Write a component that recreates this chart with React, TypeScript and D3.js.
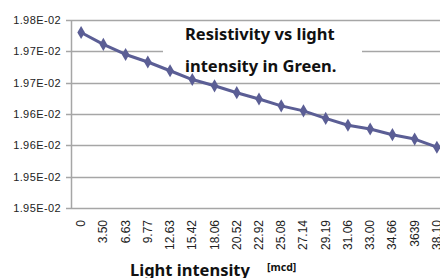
import React from "react";
import * as d3 from "d3";

const categories = ["0", "3.50", "6.63", "9.77", "12.63", "15.42", "18.06", "20.52", "22.92", "25.08", "27.14", "29.19", "31.06", "33.00", "34.66", "3639", "38.10"];
const resistivity = [0.019780, 0.019761, 0.019745, 0.019733, 0.019719, 0.019705, 0.019695, 0.019684, 0.019674, 0.019663, 0.019655, 0.019643, 0.019632, 0.019626, 0.019617, 0.019610, 0.019597];
const yTickValues = [0.0195, 0.01955, 0.0196, 0.01965, 0.0197, 0.01975, 0.0198];
const yTickLabels = ["1.95E-02", "1.95E-02", "1.96E-02", "1.96E-02", "1.97E-02", "1.97E-02", "1.98E-02"];
const titleLines = ["Resistivity vs light", "intensity in Green."];
const xTitle = "Light intensity";
const xUnit = "[mcd]";

export default function App() {
  const W = 440, H = 278;
  const left = 71, top = 20, bottom = 208;
  const x = d3.scaleBand<string>().domain(categories).range([70, 448]);
  const y = d3.scaleLinear().domain([0.0195, 0.0198]).range([bottom, top]);
  const cx = (c: string) => (x(c) as number) + x.bandwidth() / 2;
  const line = d3.line<number>().x((_, i) => cx(categories[i])).y((d) => y(d));
  const diamond = d3.symbol().type(d3.symbolDiamond).size(50)();
  const color = "#5B5E95";
  const grid = "#A6A6A6";
  return (
    <svg width={W} height={H} style={{ position: "absolute", left: 0, top: 0, background: "#fff" }}>
      {yTickValues.map((v, i) => (
        <g key={i}>
          <line x1={66} x2={W} y1={Math.round(y(v)) + 0.5} y2={Math.round(y(v)) + 0.5} stroke={grid} strokeWidth={1.3} />
          <text x={61} y={y(v) + 4} textAnchor="end" fontFamily="Liberation Sans, Arial" fontSize={11} letterSpacing={0.4} fill="#222">
            {yTickLabels[i]}
          </text>
        </g>
      ))}
      <line x1={left + 0.5} x2={left + 0.5} y1={top} y2={bottom + 1} stroke={grid} strokeWidth={1.5} />
      <rect x={163} y={25} width={199} height={54} fill="#fff" />
      {titleLines.map((t, i) => (
        <text key={i} x={185} y={40 + i * 32} fontFamily="Noto Sans, Liberation Sans" fontWeight={700} fontSize={16.5} fill="#111">
          {t}
        </text>
      ))}
      <path d={line(resistivity) || ""} fill="none" stroke={color} strokeWidth={3} strokeLinejoin="round" />
      {resistivity.map((v, i) => (
        <path key={i} d={diamond || ""} transform={`translate(${cx(categories[i])},${y(v)})`} fill={color} />
      ))}
      {categories.map((c) => (
        <text key={c} transform={`translate(${cx(c) + 4},220) rotate(-90)`} textAnchor="end" fontFamily="Liberation Sans, Arial" fontSize={12} fill="#222">
          {c}
        </text>
      ))}
      <text x={130} y={276} fontFamily="Noto Sans, Liberation Sans" fontWeight={700} fontSize={16.5} fill="#111">{xTitle}</text>
      <text x={267} y={271} fontFamily="Noto Sans, Liberation Sans" fontWeight={700} fontSize={10.5} fill="#111">{xUnit}</text>
    </svg>
  );
}
